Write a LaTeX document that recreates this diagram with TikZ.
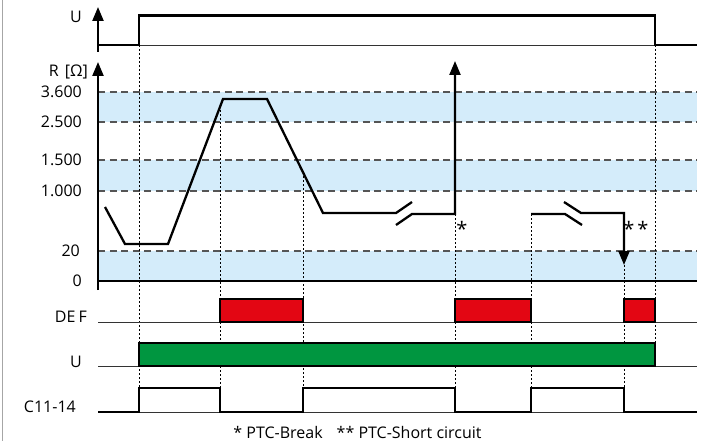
\documentclass[tikz,border=0pt]{standalone}
\usepackage{fontspec}
\setmainfont{Open Sans}
\usetikzlibrary{arrows.meta}
\definecolor{bandblue}{RGB}{212,236,250}
\definecolor{defred}{RGB}{227,6,19}
\definecolor{ugreen}{RGB}{0,150,64}
\definecolor{dashgray}{RGB}{85,85,85}
\tikzset{
  sig/.style={line width=2.3pt, line join=miter},
  thinbase/.style={line width=0.9pt, black!80},
  dashref/.style={dashgray, line width=1.1pt, dash pattern=on 7pt off 4.5pt},
  guide/.style={black, line width=0.8pt, dash pattern=on 2pt off 2pt},
  band/.style={fill=bandblue, draw=none},
  lbl/.style={font=\fontsize{16}{19}\selectfont, anchor=base east, inner sep=0pt},
  star/.style={font=\fontsize{20}{22}\selectfont, anchor=base, inner sep=0pt},
  tip/.style={-{Triangle[width=11pt,length=14pt]}},
  redbox/.style={fill=defred, draw=black, line width=1.8pt},
  greenbox/.style={fill=ugreen, draw=black, line width=1.8pt},
}
\begin{document}
\begin{tikzpicture}[x=1pt,y=-1pt]
\useasboundingbox (0,0) rectangle (709,441);
% left frame line
\draw[black!35, line width=1pt] (2.5,0) -- (2.5,441);
% bands
\fill[band] (98,92) rectangle (697,122);
\fill[band] (98,160) rectangle (697,191);
\fill[band] (98,251) rectangle (697,281);
\foreach \yy in {92,122,160,191,251} \draw[dashref] (98,\yy) -- (697,\yy);
% guide lines
\draw[guide] (139,45) -- (139,388);
\draw[guide] (220,106) -- (220,388);
\draw[guide] (303,172) -- (303,388);
\draw[guide] (455,214) -- (455,388);
\draw[guide] (531,214) -- (531,388);
\draw[guide] (624,265) -- (624,388);
\draw[guide] (655,45) -- (655,343);
% zero line
\draw[sig] (98,281) -- (697,281);
% U top
\draw[thinbase] (139,45) -- (655,45);
\draw[sig] (98,45) -- (139,45) -- (139,15.5) -- (655,15.5) -- (655,45) -- (697,45);
\draw[sig, tip] (98,52) -- (98,7);
% R axis
\draw[sig, tip] (98,290) -- (98,62);
% R curve
\draw[sig] (105,207) -- (125,244) -- (168,244) -- (223,99) -- (267,99) -- (323,213) -- (396,213) -- (412,202);
\draw[sig, tip] (396,225) -- (412,214) -- (455,214) -- (455,61);
\draw[sig] (531,214) -- (565,214) -- (582,225);
\draw[sig, tip] (564,202) -- (581,213) -- (624,213) -- (624,265);
\node[star] (s1) at (462,236.5) {*};
\node[star] (s2) at (629,236.5) {*};
\node[star] (s3) at (643,236.5) {*};
% DEF
\draw[thinbase] (98,322) -- (697,322);
\draw[redbox] (220,299) rectangle (303,322);
\draw[redbox] (455,299) rectangle (531,322);
\draw[redbox] (624,299) rectangle (655,322);
% U lower
\draw[thinbase] (98,366) -- (697,366);
\draw[greenbox] (139,343) rectangle (655,366);
% C11-14
\draw[thinbase] (98,412) -- (697,412);
\draw[sig] (98,412) -- (139,412) -- (139,388) -- (220,388) -- (220,412) -- (303,412) -- (303,388) -- (455,388) -- (455,412) -- (531,412) -- (531,388) -- (624,388) -- (624,412) -- (697,412);
% labels
\node[lbl] (lu1) at (82,22.5) {U};
\node[lbl] (lr) at (88,76.5) {R\hspace{6pt}[Ω]};
\node[lbl] (l3600) at (82,97.5) {3.600};
\node[lbl] (l2500) at (82,127.5) {2.500};
\node[lbl] (l1500) at (82,165.5) {1.500};
\node[lbl] (l1000) at (82,196.5) {1.000};
\node[lbl] (l20) at (80,256.5) {20};
\node[lbl] (l0) at (82,286.5) {0};
\node[lbl] (ldef) at (87,322.5) {DE\kern3pt F};
\node[lbl] (lu2) at (82,367.5) {U};
\node[lbl] (lc) at (76,412.5) {C11-14};
\node[font=\fontsize{16}{19}\selectfont, anchor=base, inner sep=0pt] (legend) at (357.5,438) {* PTC-Break\hspace{14pt}** PTC-Short circuit};
\end{tikzpicture}
\end{document}
